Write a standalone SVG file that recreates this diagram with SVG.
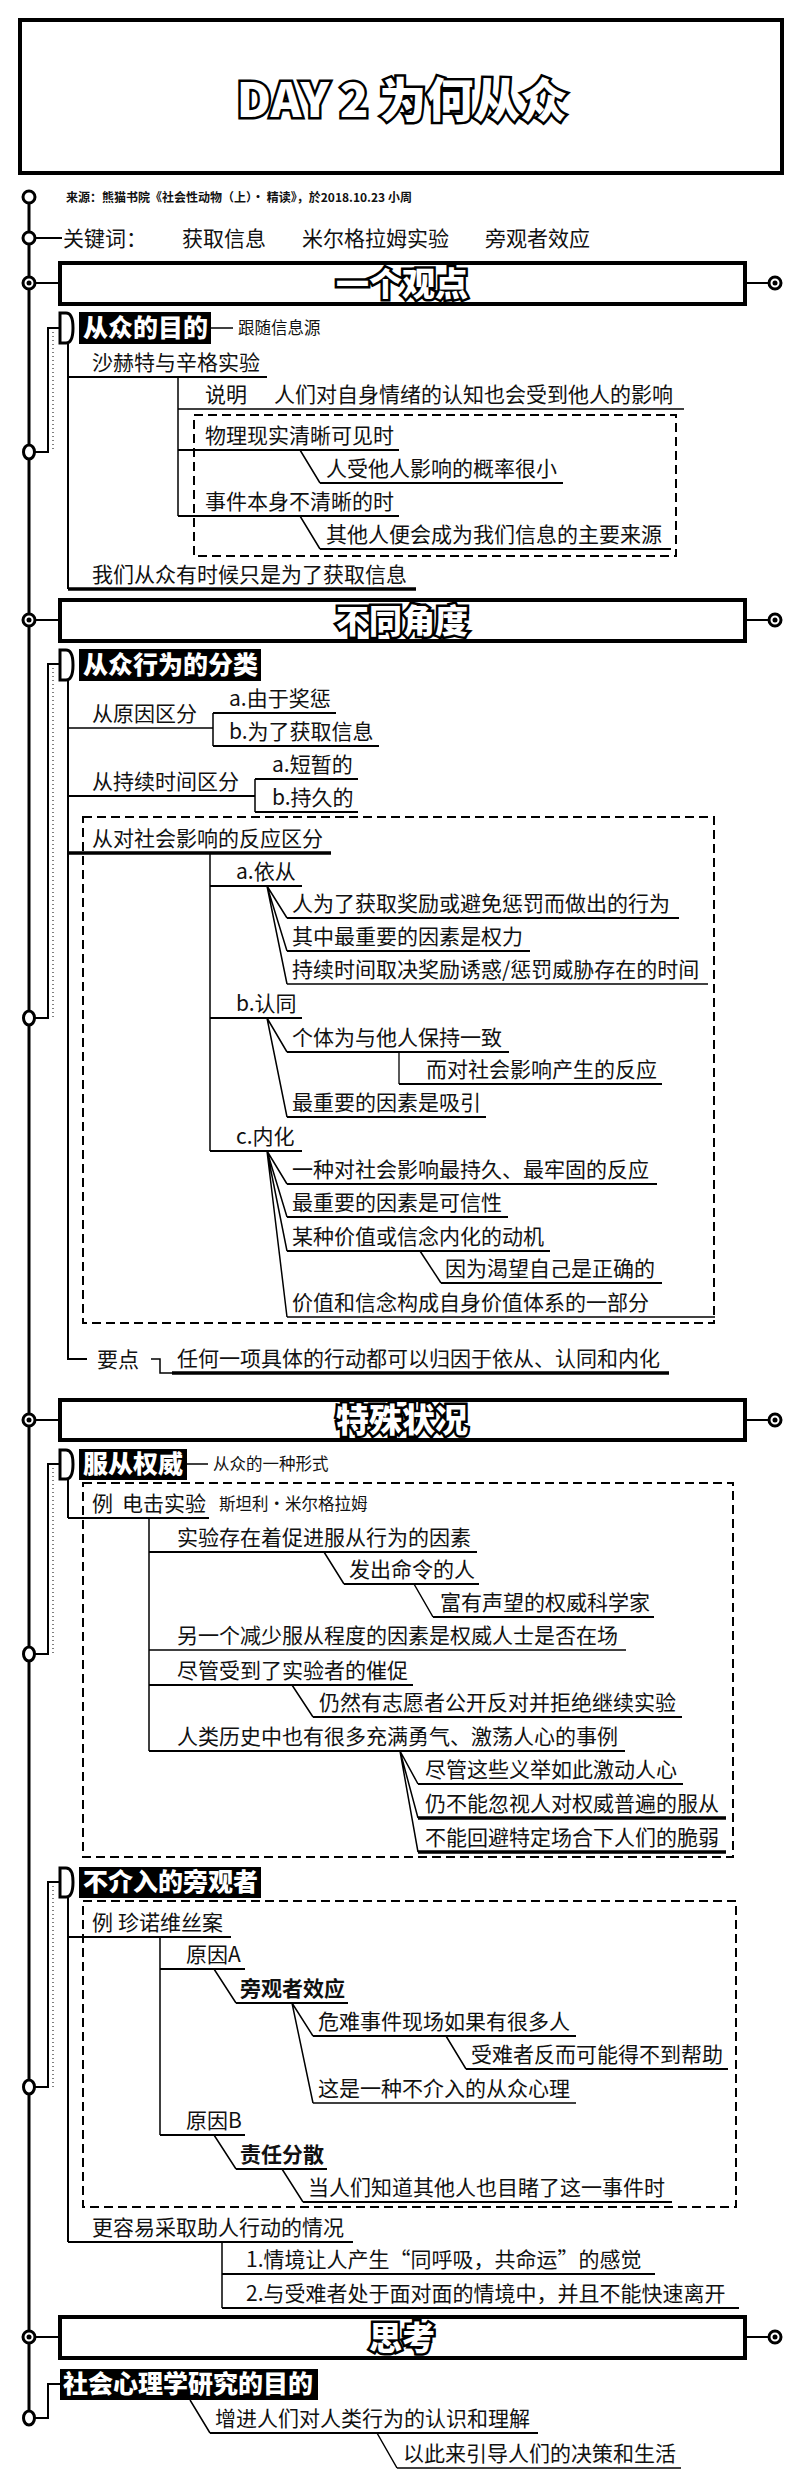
<svg xmlns="http://www.w3.org/2000/svg" width="800" height="2486" viewBox="0 0 800 2486">
<defs>
<style>
text{font-family:"Noto Sans CJK SC","Noto Sans",sans-serif;fill:#111}
.t{font-size:21px}
.bd{font-weight:bold}
.s{font-size:16.5px}
.src{font-size:12px;font-weight:bold}
.title{font-size:47px;font-weight:900;fill:#fff;stroke:#000;stroke-width:5;paint-order:stroke;text-anchor:middle}
.hd{font-size:33px;font-weight:900;fill:#fff;stroke:#000;stroke-width:5;paint-order:stroke;text-anchor:middle}
.lbl{font-size:25px;font-weight:900;fill:#fff}
.ul{stroke:#000;stroke-width:2;fill:none}
.th{stroke-width:3.5}
.tn{stroke-width:1.3}
.ln{stroke:#000;stroke-width:1.5;fill:none}
.br{stroke:#000;stroke-width:2;fill:none}
.sp{stroke:#000;stroke-width:3;fill:none}
.dash{stroke:#000;stroke-width:2;fill:none;stroke-dasharray:9 5}
.dot{stroke:#000;stroke-width:1;stroke-dasharray:1 3;fill:none}
.box{fill:#fff;stroke:#000;stroke-width:4}
.ring{fill:#fff;stroke:#000;stroke-width:3}
.lb{fill:#000}
.dm{fill:#fff;stroke:#000;stroke-width:3}
</style>
</defs>
<rect width="800" height="2486" fill="#fff"/>

<g id="connectors">
  <path class="sp" d="M29,197 V2418"/>
  <path class="br" d="M35,238 H62"/>
  <path class="br" d="M35,283 H60 M745,283 H769"/>
  <path class="br" d="M35,620 H60 M745,620 H769"/>
  <path class="br" d="M35,1420 H60 M745,1420 H769"/>
  <path class="br" d="M35,2337 H60 M745,2337 H769"/>
  <!-- group brackets -->
  <path class="br" d="M35,452 H48 V328 H60"/>
  <path class="dot" d="M53,332 V452"/>
  <path class="br" d="M35,1018 H48 V664 H60"/>
  <path class="dot" d="M53,668 V1018"/>
  <path class="br" d="M35,1654 H48 V1464 H60"/>
  <path class="dot" d="M53,1468 V1654"/>
  <path class="br" d="M35,2087 H48 V1882 H60"/>
  <path class="dot" d="M53,1886 V2087"/>
  <path class="br" d="M35,2418 H48 V2384 H60"/>
  <!-- group 1 -->
  <path class="ln" d="M211,328 H233"/>
  <path class="br" d="M68,344 V589"/>
  <path class="ln" d="M178,377 V516"/>
  <path class="ln" d="M300,450 L320,483 M300,516 L320,549"/>
  <!-- group 2 -->
  <path class="br" d="M68,680 V1359 H87"/>
  <path class="ln" d="M213,713 V746 M255,779 V812"/>
  <path class="ln" d="M210,853 V1151"/>
  <path class="ln" d="M267,886 L287,918 M267,886 L287,951 M267,886 L287,984"/>
  <path class="ln" d="M267,1018 L287,1052 M267,1018 L287,1117"/>
  <path class="tn ul" d="M399,1052 V1084"/>
  <path class="ln" d="M267,1151 L287,1184 M267,1151 L287,1217 M267,1151 L287,1251 M267,1151 L287,1317"/>
  <path class="ln" d="M420,1251 L441,1283"/>
  <path class="ln" d="M151,1359 H160 V1373 H172"/>
  <!-- group 3 -->
  <path class="ln" d="M187,1464 H208"/>
  <path class="br" d="M68,1479 V1518"/>
  <path class="ln" d="M149,1518 V1751"/>
  <path class="ln" d="M324,1552 L344,1584 M414,1584 L433,1617 M292,1685 L313,1717"/>
  <path class="ln" d="M400,1751 L418,1784 M400,1751 L418,1818 M400,1751 L418,1852"/>
  <!-- group 4 -->
  <path class="br" d="M68,1897 V2242"/>
  <path class="ln" d="M160,1937 V2135"/>
  <path class="ln" d="M214,1969 L236,2003 M292,2003 L313,2036 M292,2003 L313,2103 M446,2036 L466,2069"/>
  <path class="ln" d="M214,2135 L236,2169 M282,2169 L303,2202"/>
  <path class="ln" d="M222,2242 V2308"/>
  <!-- group 5 -->
  <path class="ln" d="M190,2400 L210,2433 M377,2433 L397,2468"/>
</g>

<g id="markers">
  <circle class="ring" cx="29" cy="197" r="6"/>
  <circle class="ring" cx="29" cy="238" r="6"/>
  <circle class="ring" cx="29" cy="283" r="6"/><circle cx="29" cy="283" r="2.5"/>
  <circle class="ring" cx="775" cy="283" r="6"/><circle cx="775" cy="283" r="2.5"/>
  <circle class="ring" cx="29" cy="620" r="6"/><circle cx="29" cy="620" r="2.5"/>
  <circle class="ring" cx="775" cy="620" r="6"/><circle cx="775" cy="620" r="2.5"/>
  <circle class="ring" cx="29" cy="1420" r="6"/><circle cx="29" cy="1420" r="2.5"/>
  <circle class="ring" cx="775" cy="1420" r="6"/><circle cx="775" cy="1420" r="2.5"/>
  <circle class="ring" cx="29" cy="2337" r="6"/><circle cx="29" cy="2337" r="2.5"/>
  <circle class="ring" cx="775" cy="2337" r="6"/><circle cx="775" cy="2337" r="2.5"/>
  <ellipse class="ring" cx="29" cy="452" rx="5.5" ry="7"/>
  <ellipse class="ring" cx="29" cy="1018" rx="5.5" ry="7"/>
  <ellipse class="ring" cx="29" cy="1654" rx="5.5" ry="7"/>
  <ellipse class="ring" cx="29" cy="2087" rx="5.5" ry="7"/>
  <ellipse class="ring" cx="29" cy="2418" rx="5.5" ry="7"/>
</g>

<g id="title">
  <rect class="box" x="20" y="20" width="762" height="153"/>
  <text class="title" x="402" y="117">DAY 2 为何从众</text>
</g>

<g id="source">
  <text class="src" x="66" y="202">来源：熊猫书院《社会性动物（上）· 精读》，於2018.10.23 小周</text>
</g>

<g id="keywords">
  <text class="t" x="63" y="246">关键词：</text>
  <text class="t" x="182" y="246">获取信息</text>
  <text class="t" x="302" y="246">米尔格拉姆实验</text>
  <text class="t" x="485" y="246">旁观者效应</text>
</g>

<g id="h1"><rect class="box" x="60" y="263" width="685" height="41"/><text class="hd" x="402" y="296">一个观点</text></g>
<g id="h2"><rect class="box" x="60" y="600" width="685" height="41"/><text class="hd" x="402" y="633">不同角度</text></g>
<g id="h3"><rect class="box" x="60" y="1400" width="685" height="40"/><text class="hd" x="402" y="1432">特殊状况</text></g>
<g id="h4"><rect class="box" x="60" y="2317" width="685" height="41"/><text class="hd" x="402" y="2350">思考</text></g>

<!-- group 1 -->
<g id="g1">
  <path class="dm" d="M60,313 H66 Q73,313 73,328 Q73,343 66,343 H60 Z"/>
  <rect class="lb" x="79" y="312" width="132" height="32"/>
  <text class="lbl" x="83" y="337">从众的目的</text>
</g>
<g id="g1-note"><text class="s" x="238" y="334">跟随信息源</text></g>
<g id="n1a"><text class="t" x="92" y="370">沙赫特与辛格实验</text><path class="ul" d="M68,377 H267"/></g>
<g id="n1b"><text class="t" x="205" y="402">说明</text><text class="t" x="274" y="402">人们对自身情绪的认知也会受到他人的影响</text><path class="ul tn" d="M178,409 H684"/></g>
<rect class="dash" x="194" y="415" width="482" height="141"/>
<g id="n1c"><text class="t" x="205" y="443">物理现实清晰可见时</text><path class="ul" d="M178,450 H399"/></g>
<g id="n1d"><text class="t" x="326" y="476">人受他人影响的概率很小</text><path class="ul" d="M320,483 H563"/></g>
<g id="n1e"><text class="t" x="205" y="509">事件本身不清晰的时</text><path class="ul" d="M178,516 H399"/></g>
<g id="n1f"><text class="t" x="326" y="542">其他人便会成为我们信息的主要来源</text><path class="ul" d="M320,549 H671"/></g>
<g id="n1g"><text class="t" x="92" y="582">我们从众有时候只是为了获取信息</text><path class="ul th" d="M68,589 H416"/></g>

<!-- group 2 -->
<g id="g2">
  <path class="dm" d="M60,650 H66 Q73,650 73,665 Q73,680 66,680 H60 Z"/>
  <rect class="lb" x="79" y="649" width="182" height="32"/>
  <text class="lbl" x="83" y="674">从众行为的分类</text>
</g>
<g id="n2a"><text class="t" x="92" y="721">从原因区分</text><path class="ul tn" d="M68,728 H213"/></g>
<g id="n2a1"><text class="t" x="229" y="706">a.由于奖惩</text><path class="ul" d="M213,713 H336"/></g>
<g id="n2a2"><text class="t" x="229" y="739">b.为了获取信息</text><path class="ul" d="M213,746 H379"/></g>
<g id="n2b"><text class="t" x="92" y="789">从持续时间区分</text><path class="ul" d="M68,796 H255"/></g>
<g id="n2b1"><text class="t" x="272" y="772">a.短暂的</text><path class="ul" d="M255,779 H358"/></g>
<g id="n2b2"><text class="t" x="272" y="805">b.持久的</text><path class="ul" d="M255,812 H358"/></g>
<rect class="dash" x="83" y="817" width="631" height="506"/>
<g id="n2c"><text class="t" x="92" y="846">从对社会影响的反应区分</text><path class="ul th" d="M68,853 H331"/></g>
<g id="n2c1"><text class="t" x="236" y="879">a.依从</text><path class="ul" d="M210,886 H302"/></g>
<g id="n2c1a"><text class="t" x="292" y="911">人为了获取奖励或避免惩罚而做出的行为</text><path class="ul" d="M287,918 H679"/></g>
<g id="n2c1b"><text class="t" x="292" y="944">其中最重要的因素是权力</text><path class="ul" d="M287,951 H530"/></g>
<g id="n2c1c"><text class="t" x="292" y="977">持续时间取决奖励诱惑/惩罚威胁存在的时间</text><path class="ul tn" d="M287,984 H708"/></g>
<g id="n2c2"><text class="t" x="236" y="1011">b.认同</text><path class="ul" d="M210,1018 H302"/></g>
<g id="n2c2a"><text class="t" x="292" y="1045">个体为与他人保持一致</text><path class="ul" d="M287,1052 H509"/></g>
<g id="n2c2b"><text class="t" x="426" y="1077">而对社会影响产生的反应</text><path class="ul" d="M399,1084 H662"/></g>
<g id="n2c2c"><text class="t" x="292" y="1110">最重要的因素是吸引</text><path class="ul" d="M287,1117 H486"/></g>
<g id="n2c3"><text class="t" x="236" y="1144">c.内化</text><path class="ul" d="M210,1151 H302"/></g>
<g id="n2c3a"><text class="t" x="292" y="1177">一种对社会影响最持久、最牢固的反应</text><path class="ul" d="M287,1184 H657"/></g>
<g id="n2c3b"><text class="t" x="292" y="1210">最重要的因素是可信性</text><path class="ul" d="M287,1217 H508"/></g>
<g id="n2c3c"><text class="t" x="292" y="1244">某种价值或信念内化的动机</text><path class="ul" d="M287,1251 H550"/></g>
<g id="n2c3d"><text class="t" x="445" y="1276">因为渴望自己是正确的</text><path class="ul" d="M441,1283 H662"/></g>
<g id="n2c3e"><text class="t" x="292" y="1310">价值和信念构成自身价值体系的一部分</text><path class="ul tn" d="M287,1317 H715"/></g>
<g id="n2d"><text class="t" x="97" y="1367">要点</text></g>
<g id="n2d1"><text class="t" x="177" y="1366">任何一项具体的行动都可以归因于依从、认同和内化</text><path class="ul th" d="M172,1373 H669"/></g>

<!-- group 3 -->
<g id="g3">
  <path class="dm" d="M60,1450 H66 Q73,1450 73,1464 Q73,1479 66,1479 H60 Z"/>
  <rect class="lb" x="79" y="1449" width="108" height="31"/>
  <text class="lbl" x="83" y="1473">服从权威</text>
</g>
<g id="g3-note"><text class="s" x="213" y="1470">从众的一种形式</text></g>
<rect class="dash" x="83" y="1483" width="650" height="374"/>
<g id="n3a"><text class="t" x="92" y="1511">例</text><text class="t" x="122" y="1511">电击实验</text><text class="s" x="219" y="1510">斯坦利·米尔格拉姆</text><path class="ul" d="M68,1518 H209"/></g>
<g id="n3a1"><text class="t" x="177" y="1545">实验存在着促进服从行为的因素</text><path class="ul" d="M149,1552 H477"/></g>
<g id="n3a1a"><text class="t" x="349" y="1577">发出命令的人</text><path class="ul" d="M344,1584 H479"/></g>
<g id="n3a1b"><text class="t" x="440" y="1610">富有声望的权威科学家</text><path class="ul" d="M433,1617 H654"/></g>
<g id="n3a2"><text class="t" x="177" y="1643">另一个减少服从程度的因素是权威人士是否在场</text><path class="ul tn" d="M149,1650 H626"/></g>
<g id="n3a3"><text class="t" x="177" y="1678">尽管受到了实验者的催促</text><path class="ul" d="M149,1685 H413"/></g>
<g id="n3a3a"><text class="t" x="319" y="1710">仍然有志愿者公开反对并拒绝继续实验</text><path class="ul" d="M313,1717 H682"/></g>
<g id="n3a4"><text class="t" x="177" y="1744">人类历史中也有很多充满勇气、激荡人心的事例</text><path class="ul" d="M149,1751 H625"/></g>
<g id="n3a4a"><text class="t" x="425" y="1777">尽管这些义举如此激动人心</text><path class="ul" d="M418,1784 H683"/></g>
<g id="n3a4b"><text class="t" x="425" y="1811">仍不能忽视人对权威普遍的服从</text><path class="ul th" d="M418,1818 H726"/></g>
<g id="n3a4c"><text class="t" x="425" y="1845">不能回避特定场合下人们的脆弱</text><path class="ul th" d="M418,1852 H726"/></g>

<!-- group 4 -->
<g id="g4">
  <path class="dm" d="M60,1868 H66 Q73,1868 73,1882 Q73,1897 66,1897 H60 Z"/>
  <rect class="lb" x="79" y="1867" width="182" height="31"/>
  <text class="lbl" x="83" y="1891">不介入的旁观者</text>
</g>
<rect class="dash" x="83" y="1901" width="653" height="306"/>
<g id="n4a"><text class="t" x="92" y="1930">例</text><text class="t" x="118" y="1930">珍诺维丝案</text><path class="ul" d="M68,1937 H231"/></g>
<g id="n4a1"><text class="t" x="186" y="1962">原因A</text><path class="ul" d="M160,1969 H245"/></g>
<g id="n4a1a"><text class="t bd" x="240" y="1996">旁观者效应</text><path class="ul" d="M236,2003 H348"/></g>
<g id="n4a1b"><text class="t" x="318" y="2029">危难事件现场如果有很多人</text><path class="ul" d="M313,2036 H576"/></g>
<g id="n4a1c"><text class="t" x="471" y="2062">受难者反而可能得不到帮助</text><path class="ul" d="M466,2069 H728"/></g>
<g id="n4a1d"><text class="t" x="318" y="2096">这是一种不介入的从众心理</text><path class="ul tn" d="M313,2103 H576"/></g>
<g id="n4a2"><text class="t" x="186" y="2128">原因B</text><path class="ul" d="M160,2135 H245"/></g>
<g id="n4a2a"><text class="t bd" x="240" y="2162">责任分散</text><path class="ul" d="M236,2169 H327"/></g>
<g id="n4a2b"><text class="t" x="308" y="2195">当人们知道其他人也目睹了这一事件时</text><path class="ul" d="M303,2202 H672"/></g>
<g id="n4b"><text class="t" x="92" y="2235">更容易采取助人行动的情况</text><path class="ul" d="M68,2242 H353"/></g>
<g id="n4b1"><text class="t" x="246" y="2267">1.情境让人产生“同呼吸，共命运”的感觉</text><path class="ul" d="M222,2274 H655"/></g>
<g id="n4b2"><text class="t" x="246" y="2301">2.与受难者处于面对面的情境中，并且不能快速离开</text><path class="ul" d="M222,2308 H739"/></g>

<!-- group 5 -->
<g id="g5">
  <rect class="lb" x="60" y="2369" width="258" height="31"/>
  <text class="lbl" x="63" y="2393">社会心理学研究的目的</text>
</g>
<g id="n5a"><text class="t" x="215" y="2426">增进人们对人类行为的认识和理解</text><path class="ul" d="M210,2433 H538"/></g>
<g id="n5b"><text class="t" x="403" y="2461">以此来引导人们的决策和生活</text><path class="ul tn" d="M397,2468 H681"/></g>
</svg>
